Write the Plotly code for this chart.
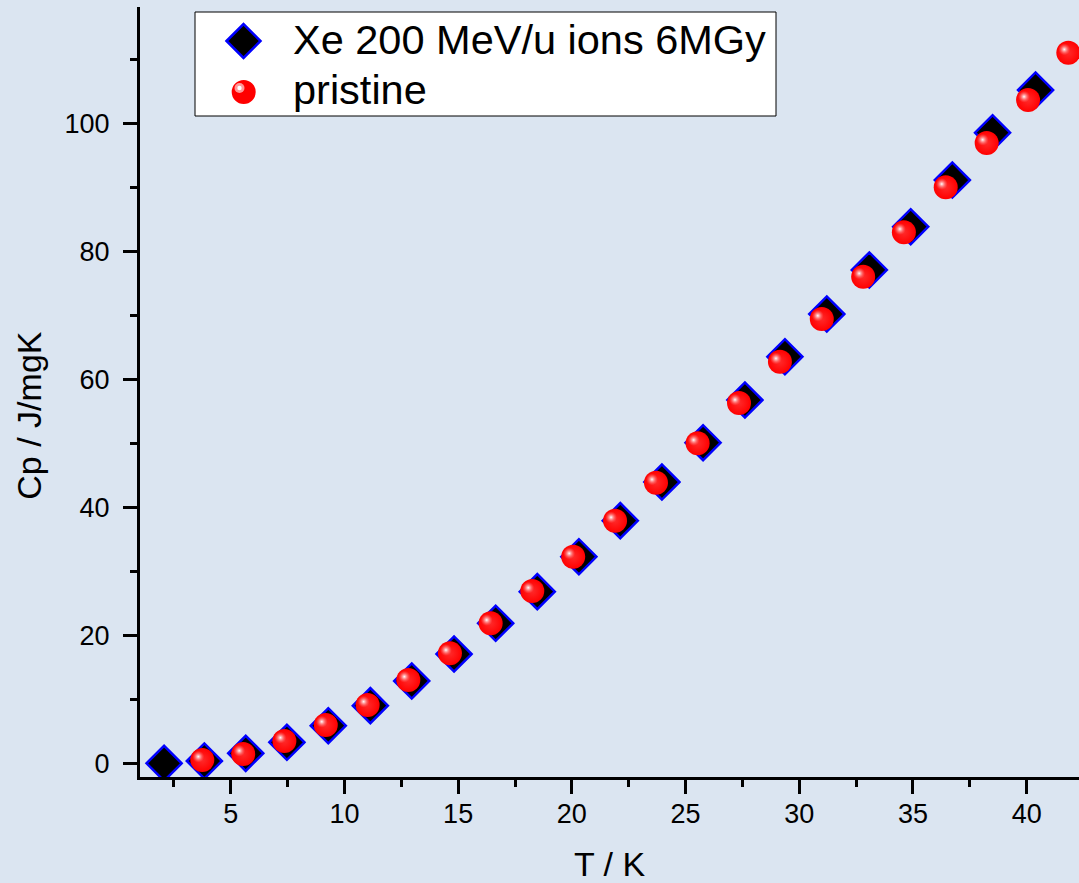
import plotly.graph_objects as go

# Data
T_xe = [2.07, 3.84, 5.66, 7.47, 9.29, 11.14, 12.96, 14.82, 16.65, 18.48, 20.31,
        22.13, 23.96, 25.77, 27.61, 29.37, 31.21, 33.08, 34.90, 36.73, 38.50, 40.39]
Cp_xe = [0.03, 0.39, 1.59, 3.31, 5.90, 9.03, 12.89, 17.10, 21.90, 26.84, 32.30,
         37.93, 43.97, 50.11, 56.78, 63.54, 70.21, 77.09, 83.85, 91.14, 98.53, 105.20]

T_pr = [3.75, 5.55, 7.36, 9.18, 11.02, 12.81, 14.64, 16.43, 18.26, 20.06, 21.90,
        23.70, 25.53, 27.35, 29.15, 30.99, 32.81, 34.60, 36.44, 38.24, 40.06, 41.83]
Cp_pr = [0.55, 1.48, 3.51, 6.01, 9.14, 13.04, 17.21, 21.90, 26.94, 32.30, 37.93,
         43.86, 50.02, 56.31, 62.76, 69.43, 76.04, 82.97, 90.00, 96.92, 103.64, 111.03]

name_xe = "Xe 200 MeV/u ions 6MGy"
name_pr = "pristine"
x_title = "T / K"
y_title = "Cp / J/mgK"

FONT = "Arial, Liberation Sans, sans-serif"
BG = "#dbe5f1"

W, H = 1079, 883
ML, MR, MT, MB = 140, 0, 7, 106
PW, PH = W - ML - MR, H - MT - MB

xr = [1.011, 42.30]
yr = [-2.11, 118.17]
# small pixel offset for the specular highlight on the spheres
dx = 0.176
dy = 0.52


def px(xp):
    return (xp - ML) / PW


def py(yp):
    return (H - MB - yp) / PH


fig = go.Figure()
fig.add_trace(go.Scatter(
    x=T_xe, y=Cp_xe, mode="markers", name=name_xe,
    marker=dict(symbol="diamond", size=27, color="black",
                line=dict(color="#0000ff", width=2.5)),
))
fig.add_trace(go.Scatter(
    x=T_pr, y=Cp_pr, mode="markers", name=name_pr,
    marker=dict(symbol="circle", size=24, color="#ff0000",
                line=dict(width=0),
                gradient=dict(type="radial", color="#ff2a2a")),
))
fig.add_trace(go.Scatter(
    x=T_pr, y=Cp_pr, mode="markers", showlegend=False, hoverinfo="skip",
    xaxis="x2", yaxis="y2",
    marker=dict(symbol="circle", size=12, color="rgba(255,120,120,0)",
                line=dict(width=0),
                gradient=dict(type="radial", color="rgba(255,255,255,1)")),
))

axis_common = dict(
    showline=True, linecolor="black", linewidth=3,
    ticks="outside", ticklen=14, tickwidth=3, tickcolor="black",
    showgrid=False, zeroline=False, mirror=False,
    tickfont=dict(family=FONT, size=27, color="black"),
)

# Legend box drawn like the original (large symbols)
shapes = [
    dict(type="rect", xref="paper", yref="paper",
         x0=px(195), x1=px(776), y0=py(116), y1=py(12),
         fillcolor="white", line=dict(color="black", width=1), layer="above"),
    dict(type="path", xref="paper", yref="paper",
         xsizemode="pixel", ysizemode="pixel",
         xanchor=px(243.5), yanchor=py(41),
         path="M -17 0 L 0 17 L 17 0 L 0 -17 Z",
         fillcolor="black", line=dict(color="#0000ff", width=2.5), layer="above"),
    dict(type="circle", xref="paper", yref="paper",
         xsizemode="pixel", ysizemode="pixel",
         xanchor=px(243.7), yanchor=py(92),
         x0=-12, x1=12, y0=-12, y1=12,
         fillcolor="#ff0000", line=dict(width=0), layer="above"),
    dict(type="circle", xref="paper", yref="paper",
         xsizemode="pixel", ysizemode="pixel",
         xanchor=px(239.5), yanchor=py(88),
         x0=-5, x1=5, y0=-5, y1=5,
         fillcolor="rgba(255,170,170,0.9)", line=dict(width=0), layer="above"),
    dict(type="circle", xref="paper", yref="paper",
         xsizemode="pixel", ysizemode="pixel",
         xanchor=px(239.5), yanchor=py(88),
         x0=-2.2, x1=2.2, y0=-2.2, y1=2.2,
         fillcolor="white", line=dict(width=0), layer="above"),
]

annotations = [
    dict(text=name_xe, xref="paper", yref="paper", x=px(291), y=py(40),
         xanchor="left", yanchor="middle", showarrow=False,
         font=dict(family=FONT, size=41.5, color="black")),
    dict(text=name_pr, xref="paper", yref="paper", x=px(291), y=py(90),
         xanchor="left", yanchor="middle", showarrow=False,
         font=dict(family=FONT, size=41.5, color="black")),
]

fig.update_layout(
    width=W, height=H,
    margin=dict(l=ML, r=MR, t=MT, b=MB),
    paper_bgcolor=BG, plot_bgcolor=BG,
    font=dict(family=FONT, color="black"),
    xaxis=dict(range=xr, dtick=5, tick0=0,
               minor=dict(dtick=2.5, tick0=0, ticks="outside", ticklen=7,
                          tickwidth=3, tickcolor="black", showgrid=False),
               title=dict(text=x_title, font=dict(family=FONT, size=34), standoff=25),
               ticklabelstandoff=-3,
               **axis_common),
    yaxis=dict(range=yr, dtick=20, tick0=0,
               minor=dict(dtick=10, tick0=0, ticks="outside", ticklen=7,
                          tickwidth=3, tickcolor="black", showgrid=False),
               title=dict(text=y_title + "\u00a0" * 5 + "\u200b",
                          font=dict(family=FONT, size=34), standoff=13),
               ticklabelstandoff=8,
               **axis_common),
    xaxis2=dict(range=[xr[0] + dx, xr[1] + dx], overlaying="x", visible=False),
    yaxis2=dict(range=[yr[0] - dy, yr[1] - dy], overlaying="y", visible=False),
    shapes=shapes,
    annotations=annotations,
    showlegend=False,
)

fig.write_html("out.html")
